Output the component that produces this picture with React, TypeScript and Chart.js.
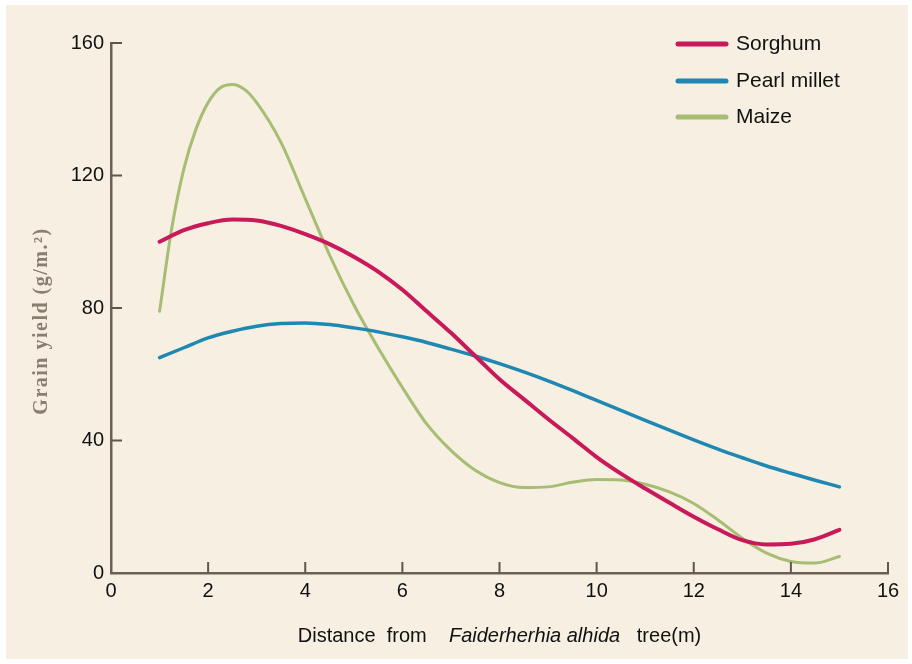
import React, { useEffect, useRef } from "react";
import { Chart, registerables } from "chart.js";

Chart.register(...registerables);

const sorghumX = [1, 1.5, 2, 2.5, 3, 3.5, 4, 4.5, 5, 5.5, 6, 6.5, 7, 7.5, 8, 8.5, 9, 9.5, 10, 10.5, 11, 11.5, 12, 12.5, 13, 13.5, 14, 14.5, 15];
const sorghumY = [100, 103.5, 105.6, 106.7, 106.4, 104.8, 102.3, 99.3, 95.5, 91, 85.5, 79, 72.5, 65.5, 58.5, 52.5, 46.5, 40.8, 35, 30, 25.5, 21.2, 17, 13.2, 9.9, 8.6, 8.8, 10.2, 13];

const milletX = [1, 1.5, 2, 2.5, 3, 3.5, 4, 4.5, 5, 5.5, 6, 6.5, 7, 7.5, 8, 8.5, 9, 9.5, 10, 10.5, 11, 11.5, 12, 12.5, 13, 13.5, 14, 14.5, 15];
const milletY = [65, 68, 71, 73, 74.5, 75.3, 75.5, 75, 74, 72.8, 71.3, 69.6, 67.6, 65.5, 63.2, 60.7, 58, 55.1, 52.1, 49.1, 46.1, 43.1, 40.2, 37.4, 34.8, 32.3, 30.1, 28, 26];

const maizeX = [1, 1.25, 1.5, 1.75, 2, 2.25, 2.5, 2.75, 3, 3.5, 4, 4.5, 5, 5.5, 6, 6.5, 7, 7.5, 8, 8.5, 9, 9.5, 10, 10.5, 11, 11.5, 12, 12.5, 13, 13.5, 14, 14.5, 15];
const maizeY = [79, 104, 122, 134, 142, 146.5, 147.5, 146, 142, 130, 113, 96, 81, 68, 56, 45, 37, 31, 27.3, 25.8, 26, 27.4, 28.2, 28.1, 26.8, 24.5, 21, 16, 10.5, 6, 3.5, 3, 5];

const seriesNames = ["Sorghum", "Pearl millet", "Maize"];
const seriesColors = ["#c81a5a", "#1f88b2", "#a6bd72"];
const xTickValues = [0, 2, 4, 6, 8, 10, 12, 14, 16];
const yTickValues = [0, 40, 80, 120, 160];

const xTitleParts = [
  { text: "Distance  from    ", italic: false },
  { text: "Faiderherhia alhida", italic: true },
  { text: "   tree(m)", italic: false },
];
const yTitle = "Grain yield (g/m.²)";

const toPoints = (xs: number[], ys: number[]) => xs.map((x, i) => ({ x, y: ys[i] }));

const SANS = "'Liberation Sans', Arial, sans-serif";

const decorPlugin = {
  id: "decor",
  beforeDraw(chart: any) {
    const { ctx, width, height } = chart;
    ctx.save();
    ctx.fillStyle = "#ffffff";
    ctx.fillRect(0, 0, width, height);
    ctx.fillStyle = "#f7efe2";
    ctx.fillRect(6, 5, width - 10, height - 10);
    ctx.restore();
  },
  afterDraw(chart: any) {
    const { ctx, chartArea } = chart;
    const xs = chart.scales.x;
    const ys = chart.scales.y;
    ctx.save();
    // inward tick marks
    ctx.strokeStyle = "#5e564f";
    ctx.lineWidth = 2;
    ctx.beginPath();
    yTickValues.forEach((v) => {
      const py = ys.getPixelForValue(v);
      if (v === 0) return;
      ctx.moveTo(chartArea.left, py);
      ctx.lineTo(chartArea.left + 11, py);
    });
    xTickValues.forEach((v) => {
      const px = xs.getPixelForValue(v);
      if (v === 0) return;
      ctx.moveTo(px, chartArea.bottom);
      ctx.lineTo(px, chartArea.bottom - 11);
    });
    ctx.stroke();

    // legend
    const lx = 678;
    const rows = [44, 81, 117];
    chart.data.datasets.forEach((ds: any, i: number) => {
      ctx.strokeStyle = ds.borderColor;
      ctx.lineWidth = 5;
      ctx.lineCap = "round";
      ctx.beginPath();
      ctx.moveTo(lx, rows[i]);
      ctx.lineTo(lx + 48, rows[i]);
      ctx.stroke();
      ctx.fillStyle = "#111111";
      ctx.font = `21px ${SANS}`;
      ctx.textBaseline = "middle";
      ctx.textAlign = "left";
      ctx.fillText(ds.label, lx + 58, rows[i]);
    });

    // x title with italic species name
    ctx.textBaseline = "middle";
    ctx.textAlign = "left";
    const fonts = xTitleParts.map((p) => (p.italic ? `italic 20px ${SANS}` : `20px ${SANS}`));
    let total = 0;
    const widths = xTitleParts.map((p, i) => {
      ctx.font = fonts[i];
      const w = ctx.measureText(p.text).width;
      total += w;
      return w;
    });
    let cx = (chartArea.left + chartArea.right) / 2 - total / 2;
    xTitleParts.forEach((p, i) => {
      ctx.font = fonts[i];
      ctx.fillStyle = "#111111";
      ctx.fillText(p.text, cx, 636);
      cx += widths[i];
    });

    // y title
    ctx.translate(42, 321);
    ctx.rotate(-Math.PI / 2);
    ctx.font = `bold 20px 'Liberation Serif', 'Times New Roman', serif`;
    (ctx as any).letterSpacing = "1.5px";
    ctx.fillStyle = "#8a7e70";
    ctx.textAlign = "center";
    ctx.textBaseline = "middle";
    ctx.fillText(yTitle, 0, 0);
    ctx.restore();
  },
};

export default function App() {
  const ref = useRef<HTMLCanvasElement | null>(null);
  useEffect(() => {
    document.body.style.margin = "0";
    if (!ref.current) return;
    const makeDs = (i: number, data: any[], w: number) => ({
      label: seriesNames[i],
      data,
      borderColor: seriesColors[i],
      backgroundColor: seriesColors[i],
      borderWidth: w,
      pointRadius: 0,
      cubicInterpolationMode: "monotone" as const,
      fill: false,
      borderCapStyle: "round" as const,
    });
    const chart = new Chart(ref.current, {
      type: "line",
      data: {
        datasets: [
          makeDs(0, toPoints(sorghumX, sorghumY), 4),
          makeDs(1, toPoints(milletX, milletY), 3.5),
          makeDs(2, toPoints(maizeX, maizeY), 3),
        ],
      },
      options: {
        responsive: false,
        animation: false,
        layout: { padding: { left: 0, right: 24, top: 43, bottom: 0 } },
        plugins: { legend: { display: false }, tooltip: { enabled: false } },
        scales: {
          x: {
            type: "linear",
            min: 0,
            max: 16,
            afterFit: (s: any) => {
              s.height = 91;
            },
            afterBuildTicks: (s: any) => {
              s.ticks = xTickValues.map((v) => ({ value: v }));
            },
            ticks: { color: "#111111", font: { family: SANS, size: 20 }, padding: 6, maxRotation: 0 },
            grid: { display: false, drawTicks: false },
            border: { display: true, color: "#6a6058", width: 2.5 },
          },
          y: {
            min: 0,
            max: 160,
            afterFit: (s: any) => {
              s.width = 111;
            },
            afterBuildTicks: (s: any) => {
              s.ticks = yTickValues.map((v) => ({ value: v }));
            },
            ticks: { color: "#111111", font: { family: SANS, size: 20 }, padding: 7 },
            grid: { display: false, drawTicks: false },
            border: { display: true, color: "#6a6058", width: 2.5 },
          },
        },
      },
      plugins: [decorPlugin],
    });
    return () => chart.destroy();
  }, []);
  return <canvas ref={ref} width={912} height={664} style={{ display: "block" }} />;
}
